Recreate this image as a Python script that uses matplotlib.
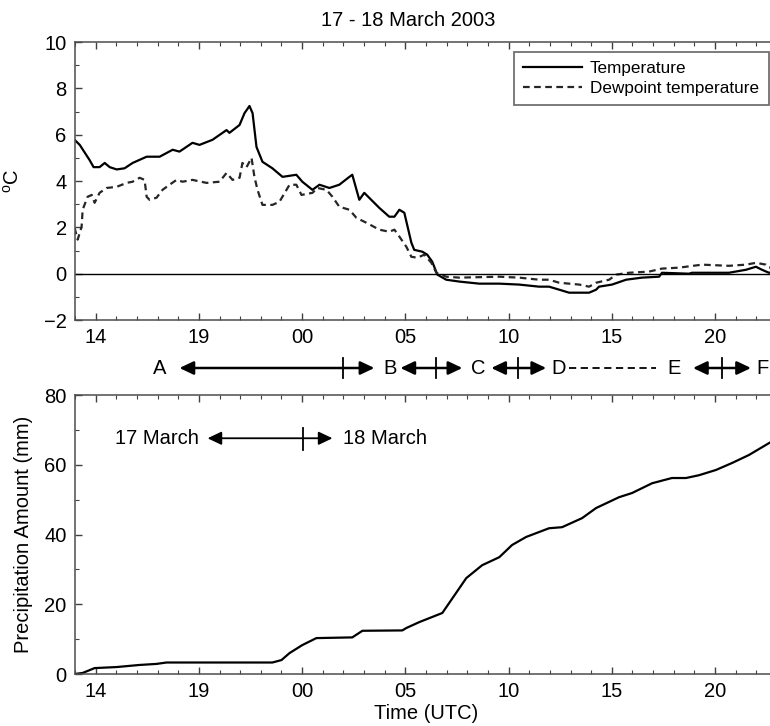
import numpy as np
import matplotlib.pyplot as plt
from matplotlib.patches import ArrowStyle
from matplotlib.transforms import blended_transform_factory
from matplotlib.ticker import MultipleLocator

plt.rcParams['font.family'] = ['Liberation Sans', 'DejaVu Sans']

# --- veri: saat (17 Mart 00 UTC'den itibaren) ---
t_hours = [12.98, 13.23, 13.71, 13.9, 14.19, 14.44, 14.68, 15.02, 15.4, 15.79, 16.47, 17.1,
           17.73, 18.06, 18.69, 19.03, 19.66, 20.34, 20.48, 20.97, 21.21, 21.45, 21.6, 21.79,
           22.08, 22.56, 23.05, 23.72, 24.01, 24.5, 24.84, 25.32, 25.8, 26.29, 26.43, 26.77,
           27.01, 27.74, 28.22, 28.47, 28.71, 28.95, 29.29, 29.43, 29.82, 30.06, 30.3, 30.55,
           30.98, 31.61, 32.58, 33.55, 34.51, 35.48, 35.96, 36.45, 36.93, 37.9, 38.24, 38.38,
           39.01, 39.69, 40.46, 41.29, 41.43, 42.74, 42.88, 44.67, 45.5, 45.98, 46.27, 46.61, 47.0]
temp = [5.78, 5.56, 4.9, 4.6, 4.6, 4.78, 4.6, 4.5, 4.55, 4.78, 5.05, 5.05,
        5.35, 5.27, 5.65, 5.56, 5.78, 6.2, 6.08, 6.42, 6.93, 7.24, 6.93, 5.47,
        4.83, 4.55, 4.18, 4.27, 3.97, 3.62, 3.84, 3.7, 3.84, 4.18, 4.27, 3.19,
        3.49, 2.84, 2.46, 2.46, 2.76, 2.63, 1.34, 1.03, 0.95, 0.82, 0.52, -0.04,
        -0.26, -0.34, -0.43, -0.43, -0.47, -0.56, -0.56, -0.69, -0.82, -0.82, -0.69, -0.56,
        -0.47, -0.26, -0.17, -0.13, 0.04, 0.0, 0.04, 0.04, 0.17, 0.3, 0.17, 0.04, 0.1]

td_hours = [12.98, 13.13, 13.32, 13.37, 13.61, 13.81, 13.95, 14.19, 14.53, 15.02, 15.5, 15.79,
            16.13, 16.37, 16.47, 16.61, 16.95, 17.24, 17.58, 17.92, 18.21, 18.69, 19.37, 20.0,
            20.34, 20.63, 20.97, 21.11, 21.31, 21.55, 21.69, 21.84, 22.08, 22.56, 22.9, 23.39,
            23.72, 23.97, 24.5, 24.74, 25.18, 25.47, 25.8, 26.29, 26.63, 27.11, 27.74, 28.22,
            28.47, 28.71, 29.05, 29.29, 29.58, 29.92, 30.26, 30.5, 30.98, 31.61, 33.55, 34.51,
            35.48, 35.96, 36.45, 37.42, 37.9, 38.24, 38.87, 39.21, 39.83, 40.8, 41.43, 42.25,
            43.37, 44.67, 45.5, 45.98, 46.46, 46.61, 47.0]
dewp = [1.98, 1.47, 2.03, 2.76, 3.32, 3.4, 3.06, 3.49, 3.7, 3.75, 3.92, 3.97,
        4.14, 4.05, 3.32, 3.19, 3.28, 3.62, 3.84, 4.05, 3.97, 4.05, 3.92, 3.97,
        4.35, 4.05, 4.14, 4.78, 4.6, 5.0, 4.18, 3.62, 2.97, 2.97, 3.1, 3.84,
        3.84, 3.4, 3.49, 3.7, 3.62, 3.32, 2.89, 2.76, 2.41, 2.2, 1.9, 1.81,
        1.9, 1.6, 1.16, 0.73, 0.69, 0.82, 0.47, 0.04, -0.13, -0.17, -0.13, -0.17,
        -0.26, -0.26, -0.39, -0.47, -0.56, -0.39, -0.26, -0.04, 0.04, 0.09, 0.22, 0.26,
        0.39, 0.34, 0.39, 0.47, 0.39, 0.26, 0.3]

p_hours = [12.98, 13.37, 13.95, 15.02, 16.13, 16.95, 17.43, 22.56, 23.0, 23.39, 24.01, 24.69,
           26.43, 26.92, 28.85, 29.05, 29.68, 30.79, 31.95, 32.72, 33.55, 34.17, 34.85, 35.96,
           36.59, 37.56, 38.24, 39.35, 39.98, 40.95, 41.91, 42.59, 43.22, 44.04, 44.82, 45.64,
           46.61, 47.0]
precip = [0.0, 0.3, 1.7, 2.0, 2.6, 2.9, 3.3, 3.3, 4.0, 6.0, 8.3, 10.3,
          10.5, 12.4, 12.5, 13.2, 14.9, 17.5, 27.5, 31.2, 33.5, 37.0, 39.3, 41.8,
          42.1, 44.7, 47.6, 50.7, 51.9, 54.7, 56.2, 56.2, 57.0, 58.5, 60.5, 62.8,
          66.2, 67.5]

tick_pos = [14, 19, 24, 29, 34, 39, 44]
tick_lab = ['14', '19', '00', '05', '10', '15', '20']

# evreler (A-F)
phase_names = ['A', 'B', 'C', 'D', 'E', 'F']
phase_x = [17.1, 28.27, 32.53, 36.4, 42.03, 46.3]
phase_arrows = [(18.06, 27.5, 26.0), (28.76, 31.76, 30.5),
                (33.16, 35.82, 34.46), (42.93, 45.74, 44.33)]
phase_dashed = (36.93, 41.14)

# gun etiketi
day_arrow = (19.42, 25.47, 24.06)
day_text = ['17 March', '18 March']
day_text_x = [19.0, 26.0]

FS = 14.5

fig = plt.figure(figsize=(7.7, 7.26), dpi=100)
ax1 = fig.add_axes([0.0974, 0.5592, 0.9117, 0.3829])
ax2 = fig.add_axes([0.0974, 0.0716, 0.9117, 0.3843])

ax1.plot(t_hours, temp, color='k', lw=1.6, label='Temperature')
ax1.plot(td_hours, dewp, color='0.15', lw=1.6, dashes=(3, 2), label='Dewpoint temperature')
ax1.axhline(0, color='k', lw=1.0)
ax1.set_ylim(-2, 10)
ax1.set_yticks([-2, 0, 2, 4, 6, 8, 10])
ax1.yaxis.set_minor_locator(MultipleLocator(1))
ax1.set_ylabel('$^{\\mathregular{o}}$C', fontsize=FS)
ax1.yaxis.set_label_coords(-0.074, 0.5)
leg = ax1.legend(loc='upper right', bbox_to_anchor=(0.988, 0.964), borderaxespad=0,
                 fancybox=False, fontsize=12.3, handlelength=3.4, handletextpad=0.5,
                 labelspacing=0.25, borderpad=0.55)
leg.get_frame().set_edgecolor('0.3')
leg.get_frame().set_linewidth(1.3)

ax2.plot(p_hours, precip, color='k', lw=1.6)
ax2.set_ylim(0, 80)
ax2.set_yticks([0, 20, 40, 60, 80])
ax2.yaxis.set_minor_locator(MultipleLocator(10))
ax2.set_ylabel('Precipitation Amount (mm)', fontsize=FS)
ax2.yaxis.set_label_coords(-0.060, 0.5)
ax2.set_xlabel('Time (UTC)', fontsize=FS)
ax2.xaxis.set_label_coords(0.5, -0.108)

for ax in (ax1, ax2):
    ax.set_xlim(13, 47)
    ax.set_xticks(tick_pos)
    ax.set_xticklabels(tick_lab)
    ax.xaxis.set_minor_locator(MultipleLocator(1))
    ax.tick_params(which='both', direction='in', top=True, right=True, labelsize=FS, color='0.25')
    ax.tick_params(which='major', length=5, width=1.0, pad=6)
    ax.tick_params(which='minor', length=2.8, width=0.8)
    for s in ax.spines.values():
        s.set_color('0.3')
        s.set_linewidth(1.1)

# baslik
fig.text(0.53, 0.972, '17 - 18 March 2003', ha='center', va='center', fontsize=FS)

# evre oklari (iki grafik arasi)
tr = blended_transform_factory(ax1.transData, fig.transFigure)
y_row = 1 - 368 / 726
head = ArrowStyle('<|-|>', head_length=0.42, head_width=0.2)
for name, x in zip(phase_names, phase_x):
    ax1.text(x, y_row, name, transform=tr, ha='center', va='center', fontsize=FS, clip_on=False)
for x0, x1, xt in phase_arrows:
    ax1.annotate('', xy=(x1, y_row), xytext=(x0, y_row), xycoords=tr, textcoords=tr,
                 arrowprops=dict(arrowstyle=head, lw=1.8, color='k', mutation_scale=20,
                                 shrinkA=0, shrinkB=0), annotation_clip=False)
    ax1.plot([xt, xt], [y_row + 10 / 726, y_row - 10 / 726], transform=tr, color='k',
             lw=1.3, clip_on=False)
ax1.plot(phase_dashed, [y_row, y_row], transform=tr, color='k', lw=1.3, dashes=(4, 2.5),
         clip_on=False)

# gun oku (alt grafik)
y_day = 67.6
ax2.text(day_text_x[0], y_day, day_text[0], ha='right', va='center', fontsize=FS)
ax2.text(day_text_x[1], y_day, day_text[1], ha='left', va='center', fontsize=FS)
ax2.annotate('', xy=(day_arrow[1], y_day), xytext=(day_arrow[0], y_day),
             arrowprops=dict(arrowstyle=head, lw=1.3, color='k', mutation_scale=20,
                             shrinkA=0, shrinkB=0))
ax2.plot([day_arrow[2], day_arrow[2]], [y_day + 3.0, y_day - 3.3], color='k', lw=1.3)

fig.savefig('out.png', dpi=100)
